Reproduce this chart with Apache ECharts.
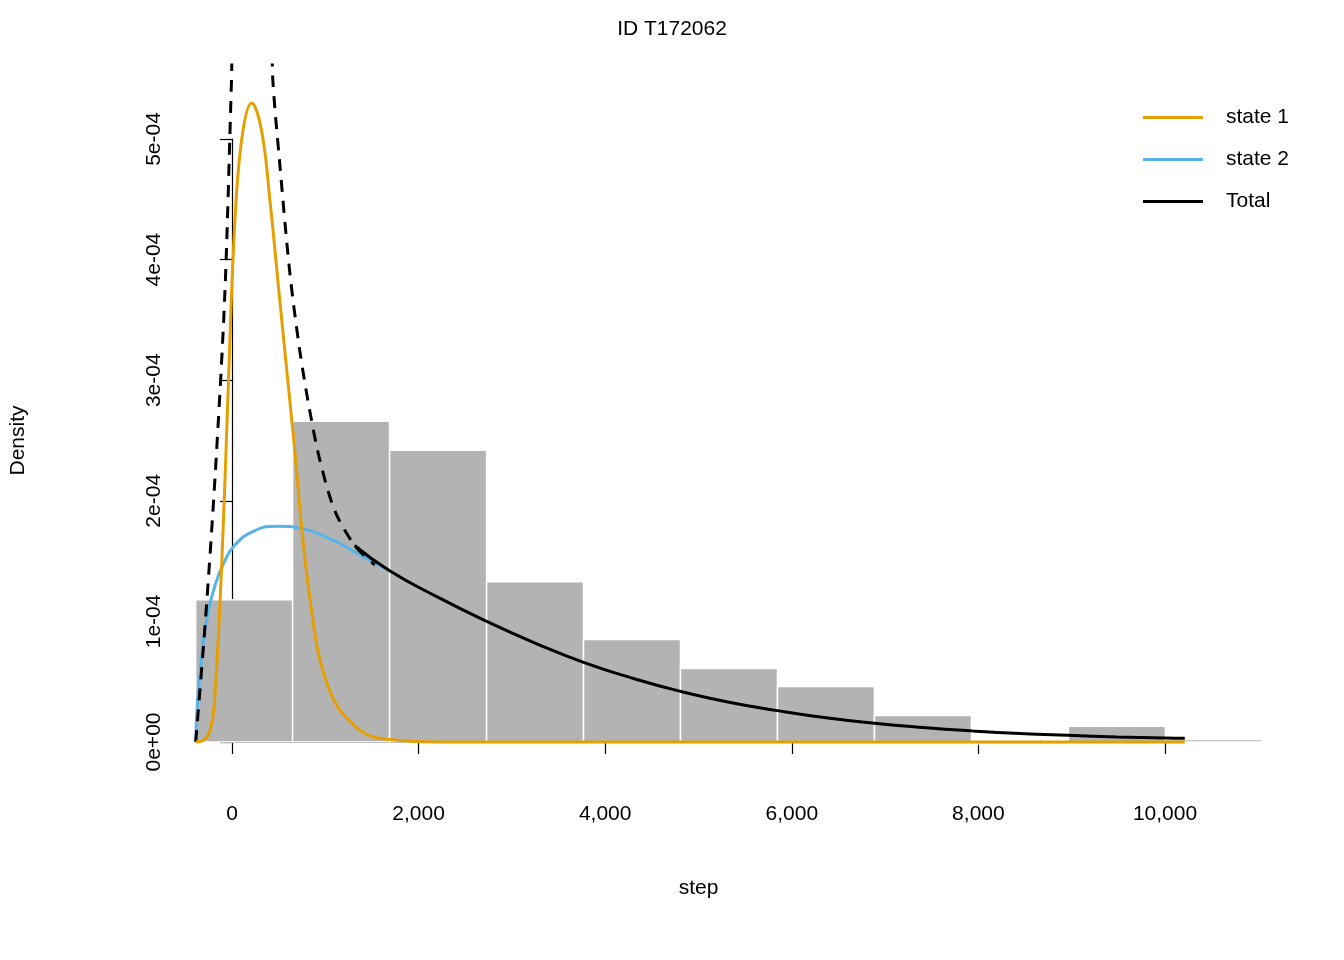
<!DOCTYPE html>
<html><head><meta charset="utf-8">
<script src="https://cdn.jsdelivr.net/npm/echarts@6/dist/echarts.min.js"></script>
<style>html,body{margin:0;background:#fff}#c{width:1344px;height:960px}</style>
</head><body><div id="c"></div>
<script>
var chart = echarts.init(document.getElementById('c'));

// histogram bins [from, to, density]
var bins = [
  [0, 1000, 1.18e-4], [1000, 2000, 2.66e-4], [2000, 3000, 2.42e-4],
  [3000, 4000, 1.33e-4], [4000, 5000, 0.85e-4], [5000, 6000, 0.61e-4],
  [6000, 7000, 0.46e-4], [7000, 8000, 0.22e-4], [8000, 9000, 0],
  [9000, 10000, 0.13e-4], [10000, 11000, 0.02e-4]
];
// state 1 density (values in 1e-4)
var state1 = [[0,0],[90,0.02],[150,0.1],[196,0.35],[270,1.5],[330,2.8],[400,4.25],[475,5.0],
  [578,5.3],[680,5.07],[765,4.5],[867,3.67],[1000,2.6],[1180,1.18],[1380,0.43],[1690,0.1],
  [2000,0.02],[2500,0],[10200,0]];
// state 2 density
var state2 = [[0,0],[20,0.35],[50,0.6],[100,0.95],[200,1.3],[300,1.5],[400,1.63],[600,1.75],
  [850,1.79],[1100,1.77],[1400,1.68],[1700,1.55],[2000,1.42]];
// total (solid part)
var total = [[1640,1.63],[2000,1.42],[2500,1.2],[3000,1.0],[3500,0.82],[4000,0.66],[4500,0.53],
  [5000,0.42],[5500,0.33],[6000,0.26],[6500,0.2],[7000,0.155],[7500,0.12],[8000,0.092],
  [8500,0.07],[9000,0.055],[9500,0.042],[10000,0.032],[10200,0.03]];
// dashed total
var dashed = [[0,0],[100,1.0],[200,2.2],[300,3.7],[370,5.5],[390,6.0],[780,6.0],[795,5.5],
  [867,4.8],[970,3.9],[1073,3.25],[1176,2.75],[1280,2.34],[1434,1.92],[1640,1.63],[1847,1.47]];

function sc(a) { return a.map(function (p) { return [p[0], p[1] * 1e-4]; }); }
var yLabels = {0: '0e+00', 1: '1e-04', 2: '2e-04', 3: '3e-04', 4: '4e-04', 5: '5e-04'};
var font = 'Liberation Sans, Arial, sans-serif';

chart.setOption({
  animation: false,
  title: { text: 'ID T172062', left: 'center', top: 14,
    textStyle: { fontFamily: font, fontSize: 21, fontWeight: 'normal', color: '#000' } },
  legend: {
    right: 50, top: 102, orient: 'vertical', icon: 'rect', itemWidth: 60, itemHeight: 3,
    itemGap: 21, data: ['state 1', 'state 2', 'Total'],
    textStyle: { fontFamily: font, fontSize: 21, color: '#000', padding: [0, 0, 0, 18] }
  },
  grid: [
    { left: 153, right: 39, top: 65, bottom: 192 },
    { left: 196, right: 179, top: 139, bottom: 218 }
  ],
  xAxis: [
    { gridIndex: 0, type: 'value', min: -440, max: 11440, show: false },
    { gridIndex: 1, type: 'value', min: 0, max: 10000, interval: 2000, offset: 26,
      name: 'step', nameLocation: 'middle', nameGap: 110,
      nameTextStyle: { fontFamily: font, fontSize: 21, color: '#000' },
      axisLine: { lineStyle: { color: '#000', width: 1.2 } },
      axisTick: { length: 12, lineStyle: { color: '#000', width: 1.2 } },
      axisLabel: { fontFamily: font, fontSize: 21, color: '#000', margin: 36 },
      splitLine: { show: false } }
  ],
  yAxis: [
    { gridIndex: 0, type: 'value', min: -2.16e-5, max: 5.616e-4, show: false },
    { gridIndex: 1, type: 'value', min: 0, max: 5e-4, interval: 1e-4, offset: 43,
      name: 'Density', nameLocation: 'middle', nameGap: 160, nameRotate: 90,
      nameTextStyle: { fontFamily: font, fontSize: 21, color: '#000' },
      axisLine: { show: true, lineStyle: { color: '#000', width: 1.2 } },
      axisTick: { show: true, length: 12, lineStyle: { color: '#000', width: 1.2 } },
      axisLabel: { fontFamily: font, fontSize: 21, color: '#000', rotate: 90, margin: 24,
        formatter: function (v) { return yLabels[Math.round(v * 1e4)]; } },
      splitLine: { show: false } }
  ],
  series: [
    { type: 'custom', xAxisIndex: 0, yAxisIndex: 0, data: bins, silent: true,
      renderItem: function (params, api) {
        var p0 = api.coord([api.value(0), 0]);
        var p1 = api.coord([api.value(1), api.value(2)]);
        return { type: 'rect',
          shape: { x: p0[0], y: p1[1], width: p1[0] - p0[0], height: Math.max(p0[1] - p1[1], 2) },
          style: { fill: '#b3b3b3', stroke: '#fff', lineWidth: 1.5 } };
      } },
    { name: 'state 2', type: 'line', xAxisIndex: 0, yAxisIndex: 0, data: sc(state2), smooth: true,
      symbol: 'none', itemStyle: { color: '#56B4E9' }, lineStyle: { color: '#56B4E9', width: 3 } },
    { name: 'Total', type: 'line', xAxisIndex: 0, yAxisIndex: 0, data: sc(total), smooth: true,
      symbol: 'none', itemStyle: { color: '#000' }, lineStyle: { color: '#000', width: 3 } },
    { name: 'dashed', type: 'line', xAxisIndex: 0, yAxisIndex: 0, data: sc(dashed), smooth: 0.3,
      symbol: 'none', clip: true, lineStyle: { color: '#000', width: 3, type: [12, 9] } },
    { name: 'state 1', type: 'line', xAxisIndex: 0, yAxisIndex: 0, data: sc(state1), smooth: 0.4,
      symbol: 'none', itemStyle: { color: '#E69F00' }, lineStyle: { color: '#E69F00', width: 3 } }
  ]
});
</script>
</body></html>
